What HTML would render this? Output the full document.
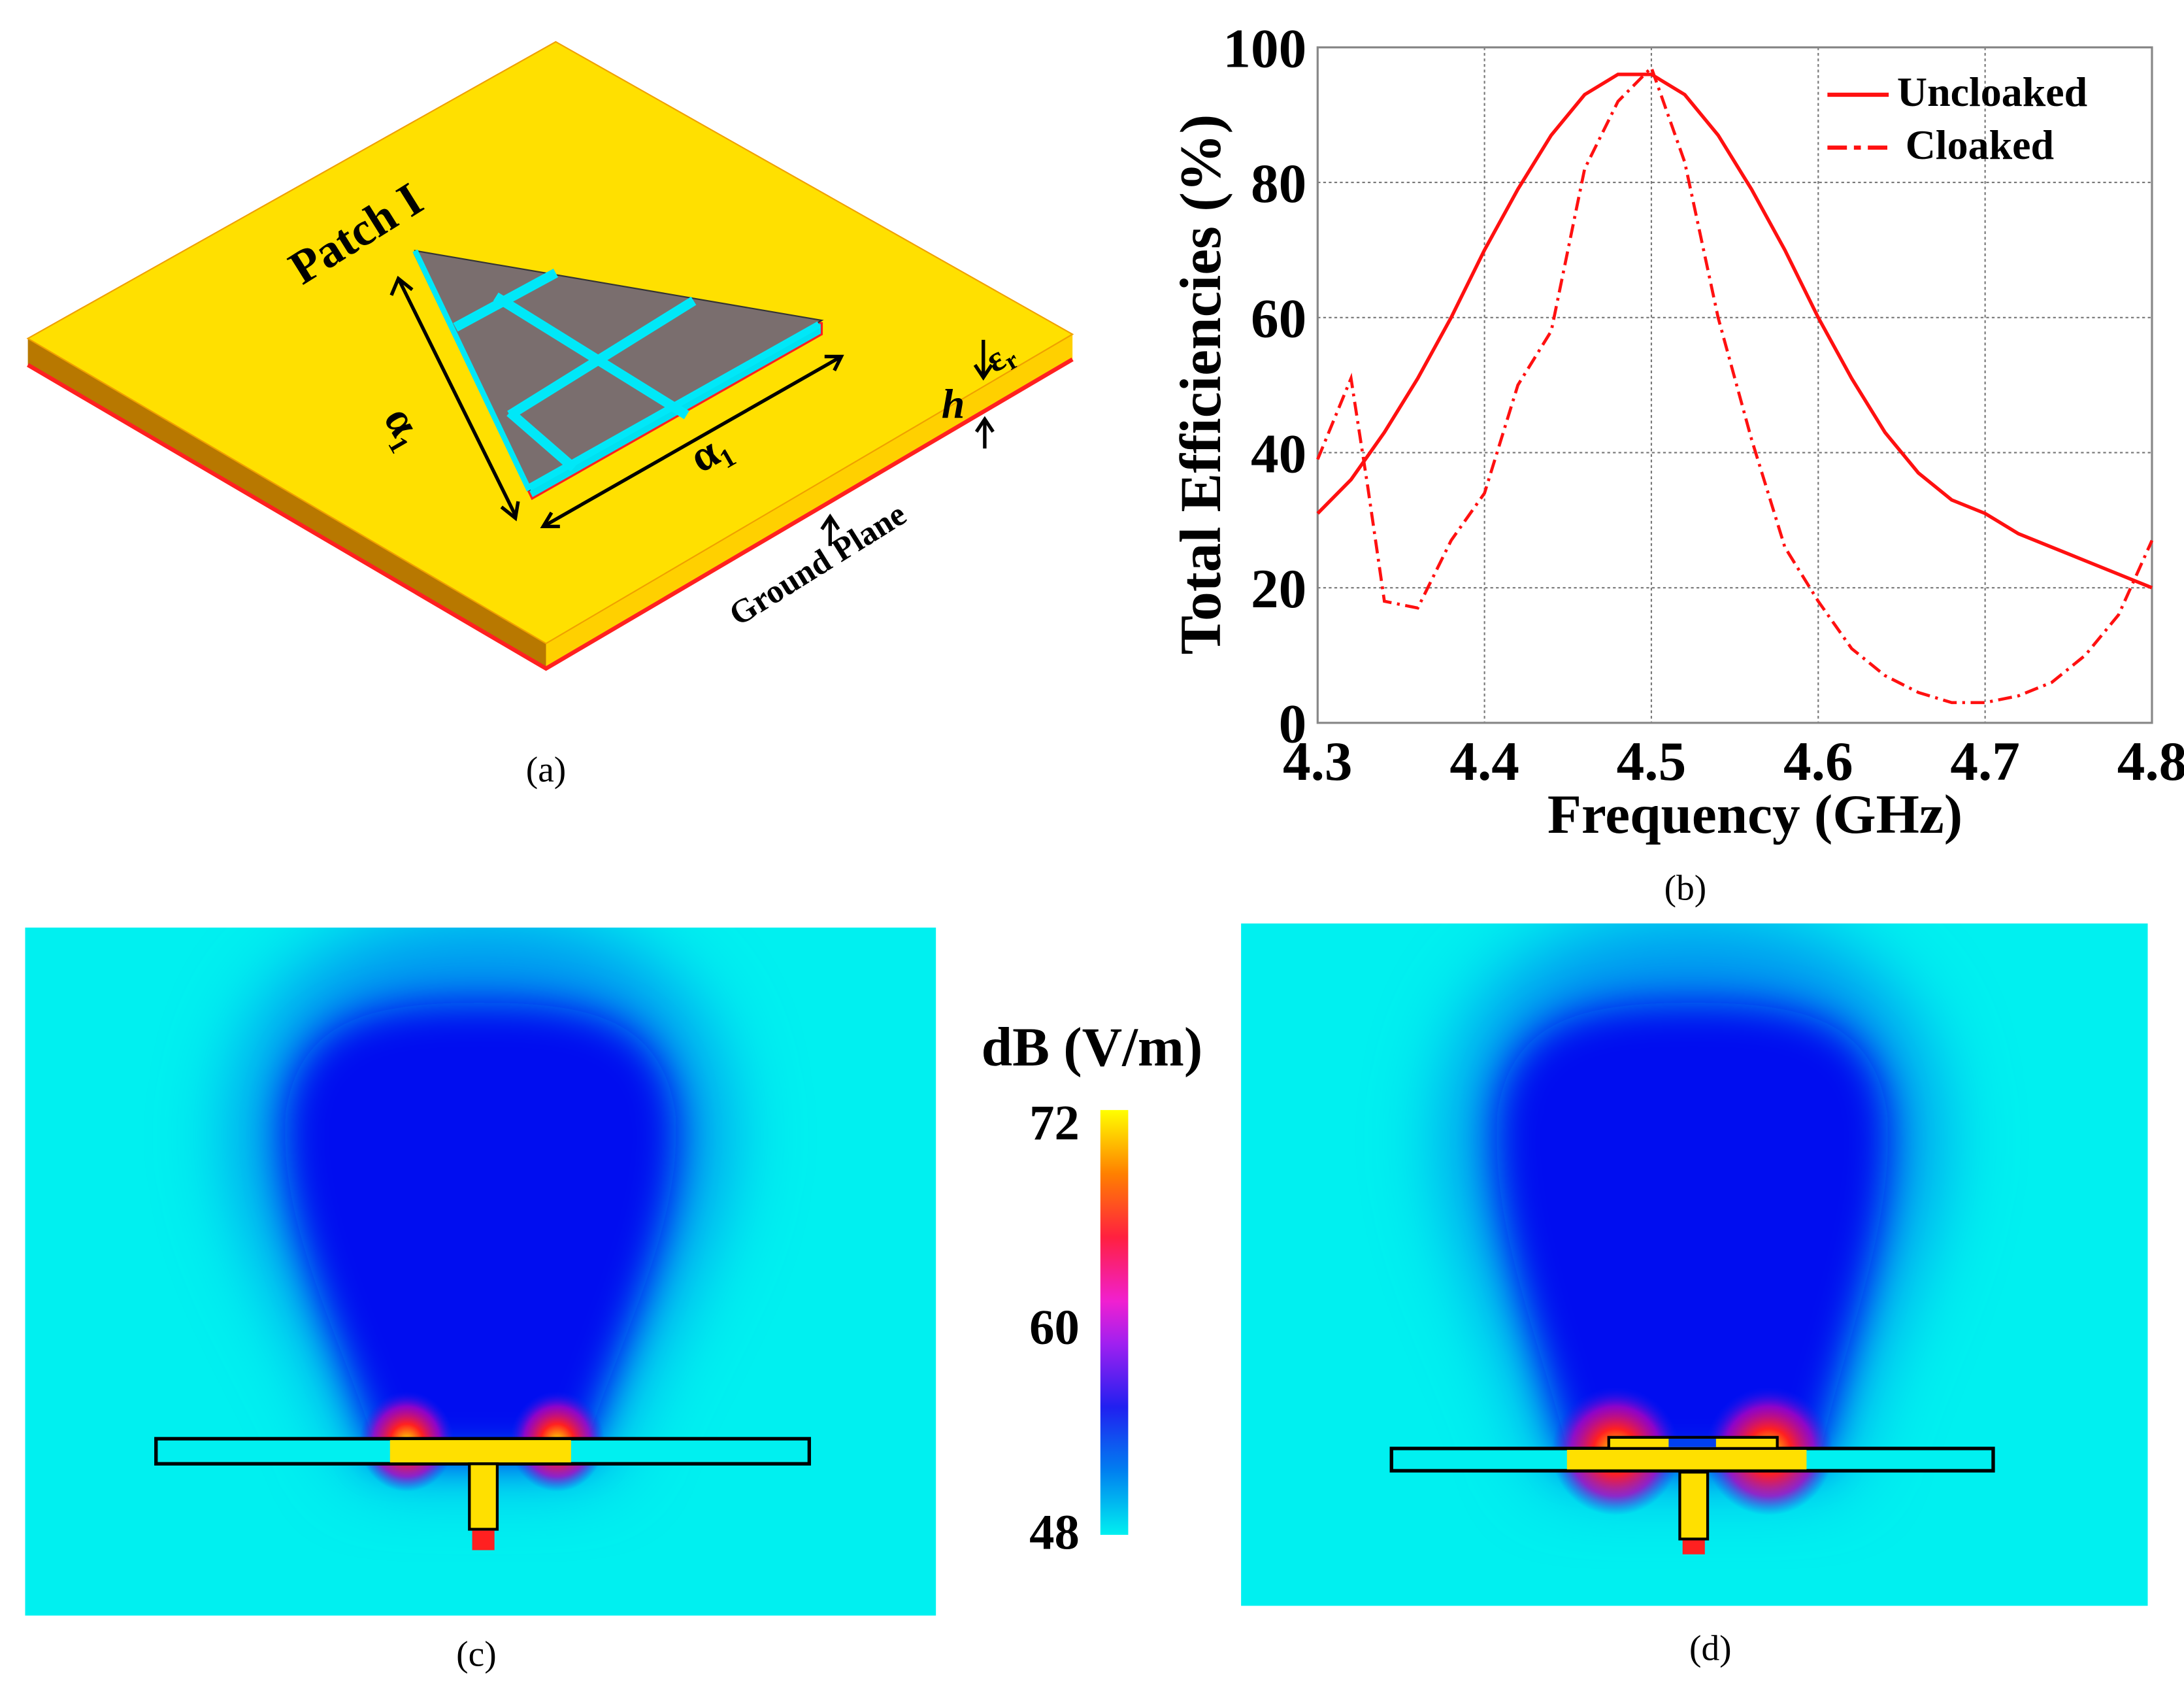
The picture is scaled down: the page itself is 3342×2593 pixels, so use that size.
<!DOCTYPE html>
<html><head><meta charset="utf-8"><style>
html,body{margin:0;padding:0;background:#fff}
svg{display:block}
text{font-family:"Liberation Serif",serif}
</style></head><body>
<svg id="fig" width="3342" height="2593" viewBox="0 0 1568 1217" preserveAspectRatio="none" xmlns="http://www.w3.org/2000/svg">
<defs>
<radialGradient id="hot" cx="0.5" cy="0.5" r="0.5">
<stop offset="0" stop-color="#ffe000"/><stop offset="0.35" stop-color="#ff2020"/><stop offset="0.7" stop-color="#b000c0" stop-opacity="0.8"/><stop offset="1" stop-color="#2020f0" stop-opacity="0"/>
</radialGradient>
<linearGradient id="cbar" x1="0" y1="1" x2="0" y2="0">
<stop offset="0" stop-color="#00f0f0"/><stop offset="0.15" stop-color="#0080f0"/><stop offset="0.3" stop-color="#2020f0"/><stop offset="0.45" stop-color="#a020f0"/><stop offset="0.55" stop-color="#f020d0"/><stop offset="0.7" stop-color="#ff2040"/><stop offset="0.85" stop-color="#ff8000"/><stop offset="1" stop-color="#ffff00"/>
</linearGradient>
<filter id="b30" x="-50%" y="-50%" width="200%" height="200%"><feGaussianBlur stdDeviation="28"/></filter>
<filter id="b15" x="-50%" y="-50%" width="200%" height="200%"><feGaussianBlur stdDeviation="14"/></filter>
<clipPath id="clipC"><rect x="18" y="666" width="654" height="494"/></clipPath>
<clipPath id="clipD"><rect x="891" y="663" width="651" height="490"/></clipPath>
</defs>

<!-- Panel (a) -->
<g>
<polygon points="20,243 392,462 392,480 20,262" fill="#b87800"/>
<polygon points="392,462 770,240 770,258 392,480" fill="#ffd000"/>
<polyline points="20,262 392,480 770,258" fill="none" stroke="#ff2020" stroke-width="3"/>
<polygon points="399,30 20,243 392,462 770,240" fill="#ffe000" stroke="#f0a000" stroke-width="1"/>
<polygon points="298,183 382,358 590,240 590,232" fill="#00e0f0" stroke="#ff2020" stroke-width="1.5"/>
<polygon points="298,180 380,352 590,230" fill="#7a6e6e" stroke="#333" stroke-width="1"/>
<g stroke="#00e8f8" stroke-width="7">
<line x1="399" y1="196" x2="327" y2="235"/>
<line x1="498" y1="216" x2="366" y2="298"/>
<line x1="356" y1="213" x2="493" y2="298"/>
<line x1="366" y1="296" x2="412" y2="336"/>
<line x1="298" y1="180" x2="380" y2="352" stroke-width="4"/>
<line x1="380" y1="350" x2="588" y2="233" stroke-width="5"/>
</g>
<g stroke="#000" stroke-width="2.5" fill="none">
<line x1="286" y1="200" x2="370" y2="370"/>
<polyline points="281,212 286,200 296,208"/>
<polyline points="360,364 370,372 372,360"/>
<line x1="390" y1="378" x2="604" y2="256"/>
<polyline points="402,378 390,378 396,368"/>
<polyline points="592,256 604,256 599,266"/>
<line x1="706" y1="244" x2="706" y2="270"/><polyline points="700,262 706,271 712,262"/>
<line x1="707" y1="302" x2="707" y2="322"/><polyline points="701,310 707,301 713,310"/>
<line x1="596" y1="372" x2="596" y2="392"/><polyline points="590,380 596,371 602,380"/>
</g>
<text x="0" y="0" font-size="34" font-weight="bold" transform="translate(217,205) rotate(-32)">Patch I</text>
<text x="0" y="0" font-size="32" font-weight="bold" transform="translate(275,300) rotate(60)">α₁</text>
<text x="0" y="0" font-size="32" font-weight="bold" transform="translate(503,340) rotate(-30)">α₁</text>
<text x="676" y="300" font-size="30" font-weight="bold" font-style="italic">h</text>
<text x="0" y="0" font-size="26" font-weight="bold" transform="translate(714,268) rotate(-30)">ε<tspan font-size="18" dy="4">r</tspan></text>
<text x="0" y="0" font-size="24" font-weight="bold" transform="translate(530,450) rotate(-32)">Ground Plane</text>
</g>
<text x="392" y="561" font-size="26" text-anchor="middle">(a)</text>

<!-- Panel (b) chart -->
<g id="chart"></g>
<text x="1210" y="646" font-size="26" text-anchor="middle">(b)</text>

<!-- Panel (c) -->
<g clip-path="url(#clipC)">
<rect x="18" y="666" width="654" height="494" fill="#00f0f0"/>
<path d="M262,1055 C230,960 160,880 170,800 C180,700 250,660 345,660 C440,660 510,700 520,800 C530,880 460,960 430,1055 Z" fill="#0090f0" filter="url(#b30)"/>
<path d="M272,1045 C245,960 200,880 205,800 C215,730 270,720 345,720 C420,720 475,730 485,800 C490,880 445,960 418,1045 Z" fill="#0010f0" filter="url(#b15)"/>
<ellipse cx="292" cy="1035" rx="34" ry="36" fill="url(#hot)"/>
<ellipse cx="400" cy="1035" rx="34" ry="36" fill="url(#hot)"/>
<rect x="112" y="1033" width="469" height="18" fill="#00f0f0" stroke="#000" stroke-width="2.5"/>
<rect x="280" y="1034" width="130" height="16" fill="#ffe000"/>
<rect x="337" y="1051" width="20" height="47" fill="#ffe000" stroke="#000" stroke-width="2"/>
<rect x="339" y="1099" width="16" height="14" fill="#ff2020"/>
</g>
<text x="342" y="1196" font-size="26" text-anchor="middle">(c)</text>

<!-- Colorbar -->
<g>
<text x="784" y="765" font-size="40" font-weight="bold" text-anchor="middle">dB (V/m)</text>
<rect x="790" y="797" width="20" height="305" fill="url(#cbar)"/>
<text x="775" y="818" font-size="36" font-weight="bold" text-anchor="end">72</text>
<text x="775" y="965" font-size="36" font-weight="bold" text-anchor="end">60</text>
<text x="775" y="1112" font-size="36" font-weight="bold" text-anchor="end">48</text>
</g>

<!-- Panel (d) -->
<g clip-path="url(#clipD)">
<rect x="891" y="663" width="651" height="490" fill="#00f0f0"/>
<path d="M1115,1060 C1090,960 1030,880 1040,800 C1050,700 1120,660 1215,660 C1310,660 1380,700 1390,800 C1400,880 1340,960 1318,1060 Z" fill="#0090f0" filter="url(#b30)"/>
<path d="M1128,1050 C1105,960 1070,880 1075,800 C1085,730 1140,720 1215,720 C1290,720 1345,730 1355,800 C1360,880 1325,960 1305,1050 Z" fill="#0010f0" filter="url(#b15)"/>
<ellipse cx="1160" cy="1042" rx="46" ry="46" fill="url(#hot)"/>
<ellipse cx="1270" cy="1042" rx="46" ry="46" fill="url(#hot)"/>
<rect x="999" y="1040" width="432" height="16" fill="#00f0f0" stroke="#000" stroke-width="2.5"/>
<rect x="1125" y="1041" width="172" height="14" fill="#ffe000"/>
<rect x="1155" y="1032" width="121" height="8" fill="#ffe000" stroke="#000" stroke-width="2"/>
<rect x="1198" y="1033" width="34" height="6" fill="#0040f0"/>
<rect x="1206" y="1057" width="20" height="48" fill="#ffe000" stroke="#000" stroke-width="2"/>
<rect x="1208" y="1106" width="16" height="10" fill="#ff2020"/>
</g>
<text x="1228" y="1192" font-size="26" text-anchor="middle">(d)</text>
</svg>
<script>
const freqs = [4.30,4.32,4.34,4.36,4.38,4.40,4.42,4.44,4.46,4.48,4.50,4.52,4.54,4.56,4.58,4.60,4.62,4.64,4.66,4.68,4.70,4.72,4.74,4.76,4.78,4.80];
const uncloaked = [31,36,43,51,60,70,79,87,93,96,96,93,87,79,70,60,51,43,37,33,31,28,26,24,22,20];
const cloakedFreqs = [4.30,4.31,4.32,4.33,4.34,4.36,4.38,4.40,4.42,4.44,4.46,4.48,4.50,4.52,4.54,4.56,4.58,4.60,4.62,4.64,4.66,4.68,4.70,4.72,4.74,4.76,4.78,4.80];
const cloaked = [39,45,51,35,18,17,27,34,50,58,82,92,97,83,60,42,26,18,11,7,4.5,3,3,4,6,10,16,27];
const xTicks = [4.3,4.4,4.5,4.6,4.7,4.8];
const yTicks = [0,20,40,60,80,100];
const NS = 'http://www.w3.org/2000/svg';
const g = document.getElementById('chart');
const X0=946,X1=1545,Y0=519,Y1=34;
const xs = f => X0 + (f-4.3)/(0.5)*(X1-X0);
const ys = v => Y0 - v/100*(Y0-Y1);
function mk(tag, attrs, parent){const e=document.createElementNS(NS,tag);for(const k in attrs)e.setAttribute(k,attrs[k]);(parent||g).appendChild(e);return e;}
xTicks.forEach(t=>{
  const l=mk('line',{x1:xs(t),x2:xs(t),y1:Y1,y2:Y0,stroke:'#777','stroke-width':1,'stroke-dasharray':'2,2'});
  
  
  const tx=mk('text',{x:xs(t),y:560,'font-size':40,'font-weight':'bold','text-anchor':'middle'});
  tx.textContent=t.toFixed(1);
  
  
});
yTicks.forEach(t=>{
  const l=mk('line',{x1:X0,x2:X1,y1:ys(t),y2:ys(t),stroke:'#777','stroke-width':1,'stroke-dasharray':'2,2'});
  
  
  const tx=mk('text',{x:938,y:ys(t)+14,'font-size':40,'font-weight':'bold','text-anchor':'end'});
  tx.textContent=t;
  
  
});
const fr=mk('rect',{x:X0,y:Y1,width:X1-X0,height:Y0-Y1,fill:'none',stroke:'#888','stroke-width':1.5});


const p1=mk('polyline',{points:freqs.map((f,i)=>xs(f)+','+ys(uncloaked[i])).join(' '),fill:'none',stroke:'#ff1010','stroke-width':2.5});


const p2=mk('polyline',{points:cloakedFreqs.map((f,i)=>xs(f)+','+ys(cloaked[i])).join(' '),fill:'none',stroke:'#ff1010','stroke-width':2.2,'stroke-dasharray':'10,4,2,4'});


const xt=mk('text',{x:1260,y:598,'font-size':40,'font-weight':'bold','text-anchor':'middle'});
xt.textContent='Frequency (GHz)';


const yt=mk('text',{x:0,y:0,'font-size':42,'font-weight':'bold','text-anchor':'middle',transform:'translate(876,276) rotate(-90)'});
yt.textContent='Total Efficiencies (%)';


const l1=mk('line',{x1:1312,x2:1356,y1:68,y2:68,stroke:'#ff1010','stroke-width':3});


const lt1=mk('text',{x:1362,y:76,'font-size':30,'font-weight':'bold'});
lt1.textContent='Uncloaked';


const l2=mk('line',{x1:1312,x2:1358,y1:106,y2:106,stroke:'#ff1010','stroke-width':3,'stroke-dasharray':'14,5,5,5'});


const lt2=mk('text',{x:1368,y:114,'font-size':30,'font-weight':'bold'});
lt2.textContent='Cloaked';


</script>
</body></html>
